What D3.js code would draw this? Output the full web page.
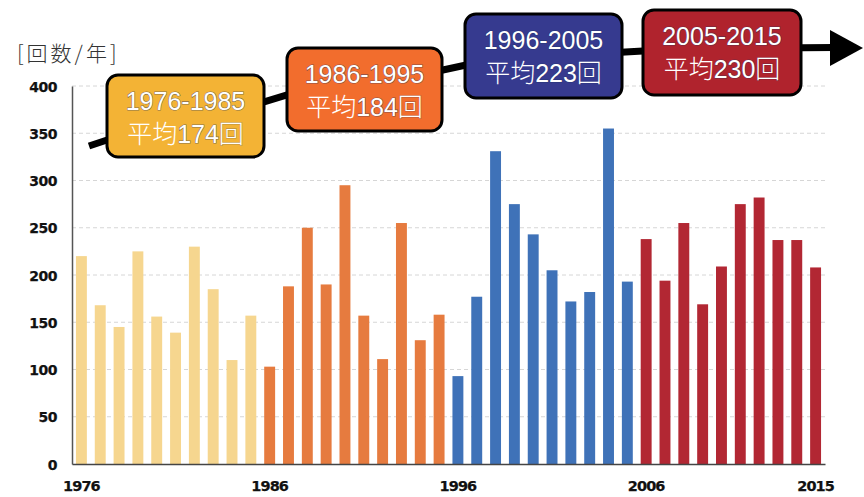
<!DOCTYPE html>
<html>
<head>
<meta charset="utf-8">
<script src="https://cdn.jsdelivr.net/npm/d3@7"></script>
<style>
  html, body { margin: 0; padding: 0; background: #fff; }
  svg { display: block; }
  .tick text { font-family: "DejaVu Sans", sans-serif; font-weight: bold; fill: #111; stroke: #111; stroke-width: 0.25; }
</style>
</head>
<body>
<svg id="chart" width="864" height="497"></svg>
<script>
// Annual counts, 1976–2015
const years = d3.range(1976, 2016);
const counts = [
  220, 168, 145, 225, 156, 139, 230, 185, 110, 157,   // 1976–1985
  103, 188, 250, 190, 295, 157, 111, 255, 131, 158,   // 1986–1995
   93, 177, 331, 275, 243, 205, 172, 182, 355, 193,   // 1996–2005
  238, 194, 255, 169, 209, 275, 282, 237, 237, 208    // 2006–2015
];
// Decades: first year of each group, box label, average
const periodStarts = [1976, 1986, 1996, 2006];
const periodLabels = ["1976-1985", "1986-1995", "1996-2005", "2005-2015"];
const periodAverages = [174, 184, 223, 230];
const yTicks = [0, 50, 100, 150, 200, 250, 300, 350, 400];
const xTicks = [1976, 1986, 1996, 2006, 2015];

// Styling
const barColors = ["#F6D68F", "#E67B3F", "#3F72B8", "#B22733"];
const boxColors = ["#F3B335", "#F26D2D", "#363A8F", "#B0232D"];
// Box geometry [x, y, w, h]
const boxLayout = [
  [107, 75, 157, 82],
  [287, 48, 155, 83],
  [465, 14, 157, 84],
  [643, 10, 158, 85]
];
// Trend arrow path through the boxes
const arrowPts = [[89, 146], [107, 140], [265, 101.5], [287, 95], [443, 70], [466, 65], [621, 52.3], [643, 51], [801, 47.7], [834, 47.5]];

const svg = d3.select("#chart");
const plotL = 72, plotR = 825, plotT = 86, plotB = 464;

const x = d3.scaleBand().domain(years).range([plotL, plotR]).paddingInner(0.42).paddingOuter(0.21);
const y = d3.scaleLinear().domain([0, 400]).range([plotB, plotT]);

const periodIndex = yr => d3.bisectRight(periodStarts, yr) - 1;

// Gridlines
svg.append("g").selectAll("line")
  .data(yTicks.filter(d => d > 0))
  .join("line")
  .attr("x1", plotL).attr("x2", plotR)
  .attr("y1", d => y(d)).attr("y2", d => y(d))
  .attr("stroke", "#d6d6d6").attr("stroke-width", 1)
  .attr("stroke-dasharray", "4,3");

// Bars
svg.append("g").selectAll("rect")
  .data(years.map((yr, i) => ({ yr, v: counts[i] })))
  .join("rect")
  .attr("x", d => x(d.yr))
  .attr("width", x.bandwidth())
  .attr("y", d => y(d.v))
  .attr("height", d => y(0) - y(d.v))
  .attr("fill", d => barColors[periodIndex(d.yr)]);

// Axes
const yAxis = svg.append("g")
  .attr("transform", `translate(${plotL},0)`)
  .call(d3.axisLeft(y).tickValues(yTicks).tickSize(0).tickPadding(15));
yAxis.select(".domain").attr("stroke", "#555").attr("stroke-width", 1.5);
yAxis.selectAll("text").attr("font-size", 14).attr("letter-spacing", -0.5).attr("dy", "0.36em");

const xAxis = svg.append("g")
  .attr("transform", `translate(0,${plotB})`)
  .call(d3.axisBottom(x).tickValues(xTicks).tickSize(0).tickPadding(17));
xAxis.select(".domain").attr("stroke", "#444").attr("stroke-width", 1.5);
xAxis.selectAll("text").attr("font-size", 14.5).attr("letter-spacing", -0.9);

// Unit label
svg.append("text")
  .attr("x", 17).attr("y", 61)
  .attr("font-family", "'Noto Sans CJK JP', sans-serif")
  .attr("font-weight", 300)
  .attr("font-size", 21)
  .attr("letter-spacing", 3)
  .attr("fill", "#333")
  .text("[回数/年]");

// Trend arrow
svg.append("path")
  .attr("d", d3.line()(arrowPts))
  .attr("fill", "none")
  .attr("stroke", "#000")
  .attr("stroke-width", 7);
const tip = arrowPts[arrowPts.length - 1];
svg.append("path")
  .attr("d", d3.line()([[tip[0] - 4, 30], [863, 48], [tip[0] - 4, 66]]) + "Z")
  .attr("fill", "#000");

// Period boxes
const boxes = svg.append("g").selectAll("g")
  .data(periodLabels.map((lab, i) => ({ lab, avg: periodAverages[i], i })))
  .join("g")
  .attr("transform", d => `translate(${boxLayout[d.i][0]},${boxLayout[d.i][1]})`);

boxes.append("rect")
  .attr("width", d => boxLayout[d.i][2])
  .attr("height", d => boxLayout[d.i][3])
  .attr("rx", 11)
  .attr("fill", d => boxColors[d.i])
  .attr("stroke", "#000")
  .attr("stroke-width", 3);

const boxText = (sel, dy) => sel.append("text")
  .attr("x", d => boxLayout[d.i][2] / 2)
  .attr("y", dy)
  .attr("text-anchor", "middle")
  .attr("font-family", "'Liberation Sans', 'Noto Sans CJK JP', sans-serif")
  .attr("font-size", 25)
  .attr("fill", "#fff")
  .attr("stroke", "#1d3560")
  .attr("stroke-opacity", 0.55)
  .attr("stroke-width", 1.2)
  .attr("paint-order", "stroke");

boxText(boxes, 35).text(d => d.lab);

// Second line: light-weight kanji around the numerals
const avgLine = boxText(boxes, 68);
avgLine.append("tspan")
  .attr("font-family", "'Noto Sans CJK JP', sans-serif").attr("font-weight", 300)
  .attr("stroke-opacity", 0).text("平均");
avgLine.append("tspan").text(d => d.avg);
avgLine.append("tspan")
  .attr("font-family", "'Noto Sans CJK JP', sans-serif").attr("font-weight", 300)
  .attr("stroke-opacity", 0.3).text("回");
</script>
</body>
</html>
